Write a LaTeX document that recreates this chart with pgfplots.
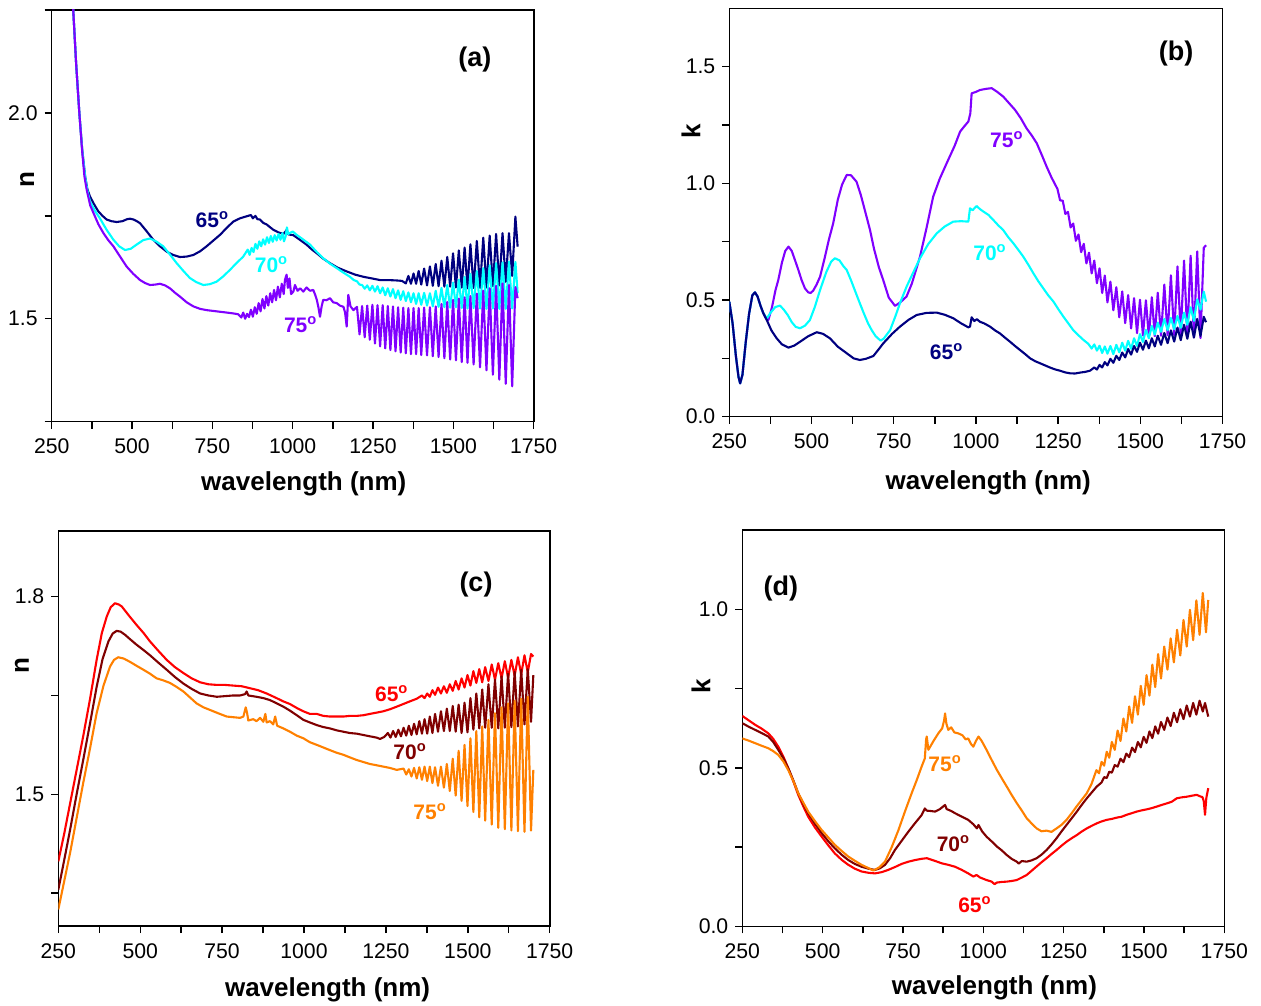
\documentclass[border=0pt]{standalone}
\usepackage{fontspec}
\setmainfont{Liberation Sans}
\usepackage{pgfplots}
\pgfplotsset{compat=1.18}
\definecolor{navyc}{RGB}{0,0,128}
\definecolor{cyanc}{RGB}{0,255,255}
\definecolor{violc}{RGB}{128,0,255}
\definecolor{redc}{RGB}{255,0,0}
\definecolor{dredc}{RGB}{128,0,0}
\definecolor{orgc}{RGB}{255,128,0}
\tikzset{
  ann/.style={font=\bfseries\fontsize{10.5}{12}\selectfont},
  plab/.style={font=\bfseries\fontsize{13.5}{15}\selectfont},
}
\pgfplotsset{
  myax/.style={
    scale only axis,
    anchor=south west,
    clip mode=individual,
    xmin=250, xmax=1750,
    xtick={250,500,...,1750},
    minor xtick={375,625,...,1625},
    tick align=outside,
    tick pos=left,
    major tick length=3.5pt,
    minor tick length=3.5pt,
    tick style={black, line width=0.7pt},
    axis line style={line width=0.8pt},
    tick label style={font=\fontsize{10.6}{12}\selectfont},
    /pgf/number format/assume math mode=true,
    xticklabel style={/pgf/number format/1000 sep={}, yshift=-1.6pt},
    yticklabel style={/pgf/number format/.cd, fixed, fixed zerofill, precision=1},
    label style={font=\bfseries\fontsize{13}{15}\selectfont},
    xlabel={wavelength (nm)},
    no markers,
    every axis plot/.append style={line width=1.05pt, line join=round},
  },
}
\begin{document}
\begin{tikzpicture}
\path[use as bounding box] (0,0) rectangle (630.5pt,502.5pt);
% ---------------- (a)
\begin{axis}[myax, at={(25.85pt,291.65pt)}, width=241pt, height=205.85pt,
  ymin=1.25, ymax=2.25, ytick={1.5,2.0}, minor ytick={1.25,1.75,2.25},
  ylabel={n},
  xlabel style={at={(axis description cs:0.523,-0.151)}, anchor=center},
  ylabel style={at={(axis description cs:-0.051,0.587)}, anchor=center}]
\addplot[navyc] coordinates {(300,2.55)(310,2.36)(317,2.25)(326,2.12)(336,2.00)(345,1.91)(354,1.846)(361,1.815)(369,1.797)(382,1.778)(395,1.761)(408,1.750)(421,1.741)(436,1.737)(452,1.735)(470,1.737)(485,1.742)(494,1.743)(505,1.741)(515,1.737)(525,1.732)(545,1.713)(566,1.692)(587,1.676)(608,1.663)(628,1.655)(649,1.650)(670,1.651)(691,1.655)(712,1.664)(732,1.676)(753,1.690)(774,1.704)(795,1.721)(815,1.736)(836,1.744)(857,1.749)(870,1.752)(876,1.744)(884,1.750)(890,1.742)(898,1.741)(908,1.733)(919,1.729)(930,1.722)(940,1.716)(955,1.710)(971,1.706)(978,1.712)(981,1.716)(986,1.705)(1002,1.703)(1022,1.692)(1043,1.680)(1060,1.668)(1075,1.659)(1095,1.646)(1116,1.635)(1140,1.624)(1168,1.615)(1195,1.607)(1220,1.602)(1246,1.598)(1272,1.594)(1298,1.594)(1324,1.593)(1340,1.592)
(1352,1.586)(1360,1.604)(1368,1.585)(1376,1.610)(1384,1.585)(1392,1.616)(1400,1.583)(1409,1.622)(1418,1.581)(1427,1.627)(1436,1.580)(1445,1.633)(1454,1.579)(1463,1.641)(1472,1.578)(1481,1.650)(1490,1.578)(1499,1.659)(1508,1.576)(1517,1.666)(1526,1.576)(1535,1.673)(1544,1.574)(1553,1.681)(1563,1.575)(1573,1.689)(1583,1.575)(1593,1.697)(1603,1.576)(1613,1.702)(1623,1.579)(1633,1.706)(1643,1.581)(1653,1.708)(1663,1.590)(1673,1.708)(1683,1.604)(1693,1.748)(1700,1.675)};
\addplot[cyanc] coordinates {(300,2.55)(310,2.36)(317,2.25)(326,2.12)(336,2.00)(345,1.91)(354,1.846)(361,1.812)(369,1.785)(384,1.763)(400,1.744)(421,1.716)(442,1.692)(460,1.676)(478,1.667)(496,1.670)(514,1.680)(535,1.691)(556,1.695)(575,1.688)(597,1.676)(618,1.656)(639,1.635)(660,1.616)(680,1.599)(700,1.589)(722,1.582)(742,1.584)(763,1.590)(784,1.603)(805,1.619)(825,1.635)(846,1.651)(860,1.668)(866,1.655)(872,1.672)(878,1.662)(884,1.682)(890,1.670)(896,1.688)(902,1.676)(908,1.693)(914,1.680)(920,1.698)(926,1.684)(932,1.701)(938,1.687)(944,1.703)(950,1.690)(956,1.706)(962,1.692)(968,1.708)(973,1.688)(978,1.700)(982,1.722)(986,1.706)(1000,1.712)(1012,1.704)(1030,1.694)(1054,1.680)(1075,1.662)(1095,1.647)(1116,1.634)(1137,1.623)(1158,1.612)(1178,1.602)(1190,1.594)
(1200,1.591)(1208,1.583)(1216,1.582)(1224,1.573)(1232,1.581)(1240,1.569)(1248,1.580)(1256,1.566)(1264,1.579)(1272,1.562)(1280,1.576)(1288,1.557)(1296,1.574)(1304,1.554)(1312,1.572)(1320,1.550)(1328,1.569)(1336,1.546)(1344,1.567)(1352,1.543)(1360,1.564)(1368,1.540)(1376,1.562)(1384,1.536)(1392,1.562)(1400,1.534)(1409,1.563)(1418,1.532)(1427,1.562)(1436,1.530)(1445,1.568)(1454,1.529)(1463,1.575)(1472,1.528)(1481,1.582)(1490,1.527)(1499,1.588)(1508,1.528)(1517,1.595)(1526,1.526)(1535,1.602)(1544,1.525)(1553,1.609)(1563,1.526)(1573,1.616)(1583,1.525)(1593,1.623)(1603,1.524)(1613,1.630)(1623,1.525)(1633,1.635)(1643,1.524)(1653,1.637)(1663,1.524)(1673,1.639)(1683,1.525)(1693,1.638)(1700,1.562)};
\addplot[violc] coordinates {(300,2.55)(310,2.36)(317,2.25)(326,2.12)(336,2.00)(345,1.905)(352,1.845)(359,1.813)(370,1.775)(380,1.757)(395,1.730)(411,1.708)(426,1.691)(442,1.676)(462,1.652)(483,1.627)(504,1.609)(525,1.594)(540,1.587)(556,1.582)(572,1.583)(587,1.585)(603,1.581)(618,1.574)(634,1.563)(649,1.554)(670,1.540)(691,1.530)(712,1.524)(732,1.521)(753,1.519)(774,1.517)(795,1.515)(815,1.513)(830,1.511)(840,1.503)(846,1.515)(852,1.500)(858,1.512)(864,1.504)(870,1.522)(876,1.505)(882,1.528)(888,1.512)(894,1.538)(900,1.518)(906,1.548)(912,1.525)(918,1.555)(924,1.532)(930,1.562)(936,1.540)(942,1.570)(948,1.545)(954,1.578)(960,1.552)(966,1.585)(972,1.560)(976,1.595)(981,1.607)(985,1.575)(990,1.598)(995,1.560)(1002,1.566)(1007,1.582)(1015,1.568)(1023,1.574)(1033,1.566)(1043,1.576)(1054,1.568)(1064,1.570)(1070,1.558)(1075,1.546)(1080,1.528)(1085,1.505)(1090,1.530)(1095,1.546)(1105,1.545)(1116,1.550)(1126,1.540)(1137,1.538)(1147,1.532)(1158,1.529)(1163,1.515)(1168,1.481)(1173,1.558)(1180,1.530)(1189,1.521)
(1200,1.529)(1208,1.462)(1216,1.531)(1224,1.455)(1232,1.532)(1240,1.449)(1248,1.534)(1256,1.440)(1264,1.533)(1272,1.433)(1280,1.533)(1288,1.428)(1296,1.531)(1304,1.424)(1312,1.530)(1320,1.421)(1328,1.528)(1336,1.418)(1344,1.527)(1352,1.416)(1360,1.526)(1368,1.414)(1376,1.526)(1384,1.414)(1392,1.526)(1400,1.412)(1409,1.527)(1418,1.411)(1427,1.528)(1436,1.409)(1445,1.530)(1454,1.407)(1463,1.536)(1472,1.404)(1481,1.541)(1490,1.401)(1499,1.546)(1508,1.399)(1517,1.549)(1526,1.395)(1535,1.552)(1544,1.393)(1553,1.555)(1563,1.389)(1573,1.561)(1583,1.382)(1593,1.568)(1603,1.375)(1613,1.574)(1623,1.364)(1633,1.580)(1643,1.352)(1653,1.586)(1663,1.342)(1673,1.582)(1683,1.336)(1693,1.577)(1700,1.550)};
\node[ann, text=navyc] at (axis cs:750,1.740) {65\textsuperscript{o}};
\node[ann, text=cyanc] at (axis cs:934,1.631) {70\textsuperscript{o}};
\node[ann, text=violc] at (axis cs:1025,1.485) {75\textsuperscript{o}};
\node[plab] at (axis description cs:0.878,0.879) {(a)};
\end{axis}
% ---------------- (b)
\begin{axis}[myax, at={(364.65pt,294.15pt)}, width=246.6pt, height=204.15pt,
  ymin=0, ymax=1.75, ytick={0,0.5,1.0,1.5}, minor ytick={0.25,0.75,1.25},
  ylabel={k},
  xlabel style={at={(axis description cs:0.525,-0.162)}, anchor=center},
  ylabel style={at={(axis description cs:-0.078,0.698)}, anchor=center}]
\addplot[violc] coordinates {(250,0.493)(260,0.40)(270,0.26)(278,0.17)(283,0.143)(290,0.18)(300,0.32)(310,0.44)(320,0.52)(328,0.533)(336,0.515)(345,0.475)(353,0.445)(360,0.425)(369,0.415)(380,0.47)(390,0.54)(399,0.586)(410,0.66)(420,0.71)(430,0.729)(440,0.71)(450,0.67)(460,0.629)(470,0.585)(480,0.55)(490,0.533)(497,0.530)(505,0.54)(515,0.565)(526,0.60)(540,0.68)(553,0.76)(566,0.829)(580,0.93)(593,0.995)(607,1.036)(620,1.035)(637,1.007)(650,0.95)(665,0.87)(678,0.80)(690,0.72)(705,0.64)(718,0.586)(735,0.51)(754,0.475)(770,0.49)(789,0.515)(805,0.57)(818,0.63)(830,0.686)(850,0.81)(870,0.943)(890,1.02)(911,1.086)(935,1.16)(952,1.222)(965,1.245)(977,1.265)(983,1.30)(987,1.386)(1000,1.392)(1012,1.400)(1030,1.405)(1048,1.408)(1065,1.392)(1083,1.372)(1100,1.345)(1119,1.315)(1137,1.278)(1154,1.236)(1170,1.205)(1185,1.172)(1200,1.123)(1215,1.072)(1230,1.025)
(1248,0.976)(1256,0.927)(1264,0.926)(1272,0.869)(1280,0.878)(1288,0.811)(1296,0.828)(1304,0.754)(1312,0.781)(1320,0.705)(1328,0.741)(1336,0.657)(1344,0.703)(1352,0.614)(1360,0.669)(1368,0.572)(1376,0.636)(1384,0.530)(1392,0.605)(1400,0.490)(1409,0.579)(1418,0.456)(1427,0.555)(1436,0.426)(1445,0.537)(1454,0.401)(1463,0.521)(1472,0.378)(1481,0.508)(1490,0.358)(1499,0.501)(1508,0.348)(1517,0.499)(1526,0.343)(1535,0.512)(1544,0.345)(1553,0.531)(1563,0.347)(1573,0.566)(1583,0.349)(1593,0.606)(1603,0.350)(1613,0.644)(1623,0.350)(1633,0.669)(1643,0.349)(1653,0.690)(1663,0.340)(1673,0.708)(1683,0.337)(1693,0.724)(1700,0.735)};
\addplot[cyanc] coordinates {(250,0.493)(260,0.40)(270,0.26)(278,0.17)(283,0.143)(290,0.18)(300,0.32)(310,0.44)(320,0.52)(328,0.533)(336,0.515)(345,0.475)(353,0.445)(364,0.421)(375,0.445)(390,0.47)(404,0.476)(415,0.46)(428,0.435)(440,0.405)(452,0.385)(465,0.379)(480,0.39)(495,0.414)(510,0.47)(526,0.543)(545,0.62)(560,0.665)(571,0.679)(585,0.67)(597,0.645)(607,0.629)(620,0.585)(635,0.53)(647,0.486)(660,0.44)(672,0.40)(683,0.371)(695,0.345)(710,0.326)(720,0.335)(739,0.371)(755,0.43)(770,0.49)(789,0.557)(810,0.62)(830,0.679)(855,0.74)(881,0.786)(905,0.815)(931,0.836)(955,0.838)(977,0.836)(982,0.893)(990,0.885)(1002,0.903)(1012,0.89)(1023,0.879)(1038,0.865)(1053,0.843)(1068,0.82)(1083,0.80)(1098,0.77)(1114,0.743)(1129,0.715)(1144,0.686)(1160,0.65)(1175,0.614)(1190,0.58)(1205,0.55)(1220,0.52)(1236,0.493)(1251,0.46)(1266,0.429)(1281,0.40)(1296,0.371)(1311,0.35)(1327,0.329)(1342,0.312)
(1352,0.292)(1360,0.310)(1368,0.283)(1376,0.304)(1384,0.273)(1392,0.301)(1400,0.270)(1409,0.303)(1418,0.268)(1427,0.308)(1436,0.276)(1445,0.317)(1454,0.283)(1463,0.325)(1472,0.291)(1481,0.336)(1490,0.303)(1499,0.354)(1508,0.320)(1517,0.372)(1526,0.336)(1535,0.389)(1544,0.352)(1553,0.403)(1563,0.364)(1573,0.419)(1583,0.371)(1593,0.423)(1603,0.375)(1613,0.432)(1623,0.381)(1633,0.446)(1643,0.394)(1653,0.469)(1663,0.411)(1673,0.503)(1683,0.459)(1693,0.536)(1700,0.493)};
\addplot[navyc] coordinates {(250,0.493)(260,0.40)(270,0.26)(278,0.17)(283,0.143)(290,0.18)(300,0.32)(310,0.44)(320,0.52)(328,0.533)(336,0.515)(345,0.475)(353,0.445)(364,0.414)(378,0.37)(394,0.336)(410,0.31)(430,0.296)(448,0.305)(465,0.321)(490,0.345)(516,0.362)(535,0.355)(556,0.336)(580,0.30)(607,0.272)(628,0.25)(647,0.243)(665,0.248)(688,0.26)(705,0.29)(718,0.314)(745,0.355)(769,0.386)(795,0.415)(820,0.436)(850,0.445)(881,0.446)(905,0.437)(931,0.422)(955,0.40)(977,0.383)(982,0.386)(987,0.426)(995,0.41)(1003,0.418)(1012,0.407)(1025,0.40)(1043,0.386)(1058,0.37)(1073,0.357)(1089,0.338)(1104,0.321)(1119,0.303)(1134,0.286)(1150,0.268)(1165,0.25)(1180,0.238)(1195,0.229)(1210,0.22)(1225,0.211)(1240,0.203)(1256,0.197)(1271,0.19)(1286,0.186)(1301,0.185)(1317,0.189)(1332,0.192)(1347,0.197)
(1360,0.211)(1368,0.202)(1376,0.222)(1384,0.211)(1392,0.234)(1400,0.220)(1409,0.248)(1418,0.231)(1427,0.261)(1436,0.243)(1445,0.275)(1454,0.254)(1463,0.290)(1472,0.266)(1481,0.303)(1490,0.278)(1499,0.317)(1508,0.287)(1517,0.326)(1526,0.293)(1535,0.336)(1544,0.301)(1553,0.347)(1563,0.308)(1573,0.359)(1583,0.315)(1593,0.370)(1603,0.322)(1613,0.382)(1623,0.328)(1633,0.394)(1643,0.334)(1653,0.407)(1663,0.339)(1673,0.419)(1683,0.346)(1693,0.428)(1700,0.405)};
\node[ann, text=violc] at (axis cs:1094,1.186) {75\textsuperscript{o}};
\node[ann, text=cyanc] at (axis cs:1043,0.704) {70\textsuperscript{o}};
\node[ann, text=navyc] at (axis cs:911,0.279) {65\textsuperscript{o}};
\node[plab] at (axis description cs:0.906,0.890) {(b)};
\end{axis}
% ---------------- (c)
\begin{axis}[myax, at={(29.15pt,39.5pt)}, width=245.7pt, height=197.6pt,
  ymin=1.3, ymax=1.9, ytick={1.5,1.8}, minor ytick={1.35,1.65},
  ylabel={n},
  xlabel style={at={(axis description cs:0.548,-0.162)}, anchor=center},
  ylabel style={at={(axis description cs:-0.074,0.658)}, anchor=center}]
\addplot[redc] coordinates {(250,1.398)(268,1.44)(286,1.486)(306,1.537)(326,1.588)(347,1.645)(367,1.704)(383,1.745)(398,1.770)(410,1.784)(423,1.790)(435,1.788)(444,1.785)(466,1.771)(489,1.757)(510,1.745)(530,1.732)(555,1.718)(581,1.704)(606,1.693)(632,1.684)(657,1.676)(683,1.670)(708,1.667)(734,1.666)(759,1.666)(784,1.665)(810,1.664)(835,1.661)(860,1.658)(886,1.653)(912,1.647)(937,1.641)(957,1.637)(978,1.631)(998,1.626)(1018,1.622)(1039,1.622)(1059,1.619)(1079,1.618)(1100,1.618)(1120,1.618)(1140,1.619)(1161,1.619)(1181,1.620)(1201,1.622)(1222,1.624)(1242,1.626)(1262,1.629)(1283,1.633)(1303,1.637)(1323,1.641)(1344,1.645)
(1360,1.650)(1368,1.646)(1376,1.653)(1384,1.648)(1392,1.658)(1400,1.651)(1409,1.662)(1418,1.653)(1427,1.664)(1436,1.654)(1445,1.667)(1454,1.657)(1463,1.672)(1472,1.659)(1481,1.676)(1490,1.662)(1499,1.681)(1508,1.665)(1517,1.687)(1526,1.669)(1535,1.690)(1544,1.670)(1553,1.693)(1563,1.672)(1573,1.697)(1583,1.674)(1593,1.699)(1603,1.676)(1613,1.702)(1623,1.677)(1633,1.704)(1643,1.680)(1653,1.708)(1663,1.682)(1673,1.711)(1683,1.685)(1693,1.713)(1700,1.709)};
\addplot[dredc] coordinates {(250,1.355)(268,1.40)(286,1.446)(306,1.50)(326,1.552)(347,1.608)(367,1.663)(385,1.705)(403,1.732)(416,1.744)(428,1.748)(440,1.747)(454,1.742)(470,1.735)(489,1.727)(510,1.719)(530,1.711)(555,1.700)(581,1.689)(606,1.678)(632,1.668)(657,1.660)(683,1.653)(708,1.650)(734,1.648)(759,1.649)(784,1.650)(805,1.650)(820,1.652)(825,1.656)(830,1.650)(855,1.648)(876,1.646)(896,1.643)(917,1.638)(937,1.633)(957,1.627)(978,1.620)(998,1.613)(1018,1.609)(1039,1.605)(1059,1.602)(1079,1.600)(1100,1.597)(1120,1.595)(1140,1.593)(1161,1.592)(1181,1.590)(1201,1.588)(1222,1.586)(1232,1.584)(1245,1.587)
(1256,1.593)(1264,1.586)(1272,1.596)(1280,1.587)(1288,1.598)(1296,1.588)(1304,1.601)(1312,1.589)(1320,1.604)(1328,1.590)(1336,1.607)(1344,1.591)(1352,1.611)(1360,1.592)(1368,1.614)(1376,1.592)(1384,1.618)(1392,1.593)(1400,1.622)(1409,1.595)(1418,1.626)(1427,1.596)(1436,1.630)(1445,1.596)(1454,1.634)(1463,1.595)(1472,1.636)(1481,1.593)(1490,1.639)(1499,1.594)(1508,1.646)(1517,1.598)(1526,1.653)(1535,1.600)(1544,1.659)(1553,1.601)(1563,1.667)(1573,1.601)(1583,1.674)(1593,1.600)(1603,1.679)(1613,1.601)(1623,1.683)(1633,1.602)(1643,1.686)(1653,1.603)(1663,1.689)(1673,1.606)(1683,1.690)(1693,1.610)(1700,1.681)};
\addplot[orgc] coordinates {(250,1.325)(268,1.368)(286,1.411)(306,1.464)(326,1.517)(347,1.570)(367,1.623)(388,1.665)(408,1.694)(420,1.704)(433,1.708)(450,1.706)(469,1.701)(489,1.695)(510,1.689)(530,1.683)(550,1.676)(570,1.673)(591,1.669)(611,1.663)(632,1.656)(652,1.647)(672,1.638)(693,1.632)(713,1.628)(738,1.623)(764,1.618)(784,1.617)(805,1.616)(815,1.618)(822,1.632)(826,1.624)(830,1.612)(845,1.614)(855,1.611)(866,1.616)(876,1.610)(882,1.622)(886,1.609)(896,1.611)(906,1.606)(912,1.618)(918,1.604)(937,1.600)(957,1.595)(978,1.589)(998,1.585)(1018,1.579)(1039,1.575)(1059,1.571)(1079,1.567)(1100,1.563)(1120,1.560)(1140,1.556)(1161,1.552)(1181,1.549)(1201,1.546)(1222,1.544)(1242,1.542)(1262,1.540)(1283,1.537)
(1304,1.539)(1312,1.530)(1320,1.538)(1328,1.527)(1336,1.540)(1344,1.524)(1352,1.541)(1360,1.522)(1368,1.542)(1376,1.520)(1384,1.542)(1392,1.517)(1400,1.541)(1409,1.513)(1418,1.542)(1427,1.510)(1436,1.546)(1445,1.505)(1454,1.554)(1463,1.498)(1472,1.566)(1481,1.490)(1490,1.575)(1499,1.482)(1508,1.585)(1517,1.473)(1526,1.596)(1535,1.465)(1544,1.603)(1553,1.460)(1563,1.613)(1573,1.454)(1583,1.623)(1593,1.449)(1603,1.632)(1613,1.447)(1623,1.638)(1633,1.445)(1643,1.642)(1653,1.444)(1663,1.645)(1673,1.443)(1683,1.648)(1693,1.445)(1700,1.537)};
\node[ann, text=redc] at (axis cs:1268,1.653) {65\textsuperscript{o}};
\node[ann, text=dredc] at (axis cs:1324,1.565) {70\textsuperscript{o}};
\node[ann, text=orgc] at (axis cs:1385,1.474) {75\textsuperscript{o}};
\node[plab] at (axis description cs:0.850,0.863) {(c)};
\end{axis}
% ---------------- (d)
\begin{axis}[myax, at={(371.15pt,39.35pt)}, width=241pt, height=198pt,
  ymin=0, ymax=1.25, ytick={0,0.5,1.0}, minor ytick={0.25,0.75},
  ylabel={k},
  xlabel style={at={(axis description cs:0.523,-0.156)}, anchor=center},
  ylabel style={at={(axis description cs:-0.086,0.605)}, anchor=center}]
\addplot[redc] coordinates {(250,0.664)(270,0.650)(290,0.636)(310,0.624)(331,0.609)(346,0.592)(362,0.567)(378,0.535)(393,0.499)(409,0.457)(424,0.415)(440,0.378)(455,0.346)(476,0.312)(497,0.283)(518,0.255)(538,0.230)(559,0.210)(580,0.194)(600,0.182)(621,0.173)(642,0.169)(663,0.167)(684,0.171)(704,0.178)(725,0.187)(746,0.197)(767,0.204)(787,0.209)(808,0.213)(824,0.215)(848,0.207)(870,0.199)(891,0.194)(912,0.188)(933,0.178)(953,0.167)(969,0.157)(979,0.162)(990,0.154)(1010,0.146)(1026,0.141)(1035,0.133)(1042,0.138)(1057,0.140)(1073,0.141)(1088,0.143)(1104,0.146)(1120,0.154)(1135,0.162)(1150,0.175)(1166,0.189)(1181,0.202)(1197,0.215)(1212,0.228)(1228,0.241)(1243,0.254)(1259,0.267)(1275,0.278)(1291,0.288)(1306,0.299)(1322,0.309)(1337,0.317)(1353,0.325)(1368,0.331)(1384,0.336)(1400,0.339)(1415,0.343)(1431,0.346)(1446,0.352)(1462,0.357)(1477,0.362)(1493,0.366)(1508,0.369)(1524,0.373)(1540,0.378)(1555,0.383)(1571,0.388)(1586,0.393)(1602,0.404)(1617,0.407)(1633,0.409)(1648,0.412)(1664,0.415)(1675,0.410)(1682,0.408)(1686,0.395)(1690,0.352)(1694,0.405)(1700,0.436)};
\addplot[dredc] coordinates {(250,0.641)(270,0.630)(290,0.620)(310,0.610)(331,0.599)(346,0.582)(362,0.557)(378,0.530)(393,0.499)(409,0.460)(424,0.420)(440,0.386)(455,0.357)(476,0.324)(497,0.294)(518,0.268)(538,0.246)(559,0.226)(580,0.209)(600,0.197)(621,0.188)(642,0.182)(663,0.178)(678,0.183)(694,0.194)(710,0.215)(725,0.241)(746,0.270)(767,0.299)(787,0.325)(808,0.351)(818,0.372)(824,0.365)(836,0.364)(850,0.362)(865,0.370)(881,0.383)(886,0.370)(900,0.364)(912,0.357)(933,0.346)(953,0.336)(969,0.322)(980,0.309)(985,0.320)(996,0.300)(1010,0.283)(1026,0.268)(1042,0.252)(1057,0.240)(1073,0.225)(1088,0.213)(1104,0.204)(1110,0.198)(1120,0.206)(1135,0.204)(1150,0.208)(1166,0.215)(1181,0.226)(1197,0.241)(1212,0.258)(1228,0.278)(1243,0.299)(1259,0.320)(1275,0.341)(1291,0.362)(1306,0.383)(1322,0.404)(1337,0.422)(1353,0.441)
(1368,0.454)(1376,0.471)(1384,0.468)(1392,0.488)(1400,0.485)(1409,0.509)(1418,0.504)(1427,0.529)(1436,0.518)(1445,0.545)(1454,0.534)(1463,0.564)(1472,0.550)(1481,0.582)(1490,0.565)(1499,0.598)(1508,0.579)(1517,0.615)(1526,0.594)(1535,0.631)(1544,0.608)(1553,0.645)(1563,0.620)(1573,0.659)(1583,0.632)(1593,0.674)(1603,0.644)(1613,0.685)(1623,0.654)(1633,0.697)(1643,0.662)(1653,0.705)(1663,0.668)(1673,0.712)(1683,0.678)(1690,0.705)(1700,0.662)};
\addplot[orgc] coordinates {(250,0.593)(270,0.586)(290,0.578)(310,0.570)(331,0.562)(346,0.553)(362,0.541)(378,0.520)(393,0.493)(409,0.458)(424,0.420)(440,0.390)(455,0.362)(476,0.332)(497,0.304)(518,0.280)(538,0.257)(559,0.238)(580,0.220)(600,0.207)(621,0.194)(640,0.185)(658,0.176)(676,0.186)(694,0.204)(715,0.250)(736,0.304)(756,0.362)(777,0.420)(793,0.462)(808,0.504)(818,0.530)(822,0.590)(824,0.599)(829,0.557)(845,0.585)(860,0.609)(872,0.625)(878,0.650)(881,0.672)(885,0.640)(891,0.620)(900,0.628)(910,0.612)(922,0.609)(935,0.603)(945,0.590)(953,0.593)(962,0.575)(969,0.567)(977,0.585)(985,0.599)(995,0.585)(1010,0.557)(1026,0.525)(1042,0.494)(1057,0.468)(1073,0.441)(1088,0.415)(1104,0.389)(1120,0.365)(1135,0.341)(1150,0.325)(1166,0.309)(1181,0.300)(1197,0.302)(1212,0.298)(1228,0.309)(1243,0.320)(1259,0.336)(1275,0.357)(1290,0.378)(1306,0.399)(1322,0.420)(1337,0.450)
(1352,0.493)(1360,0.483)(1368,0.519)(1376,0.507)(1384,0.551)(1392,0.532)(1400,0.582)(1409,0.557)(1418,0.618)(1427,0.585)(1436,0.656)(1445,0.615)(1454,0.694)(1463,0.642)(1472,0.726)(1481,0.668)(1490,0.759)(1499,0.699)(1508,0.793)(1517,0.728)(1526,0.826)(1535,0.755)(1544,0.859)(1553,0.782)(1563,0.883)(1573,0.810)(1583,0.909)(1593,0.833)(1603,0.936)(1613,0.855)(1623,0.967)(1633,0.883)(1643,0.999)(1653,0.903)(1663,1.029)(1673,0.920)(1683,1.052)(1693,0.928)(1700,1.030)};
\node[ann, text=orgc] at (axis cs:881,0.514) {75\textsuperscript{o}};
\node[ann, text=dredc] at (axis cs:907,0.262) {70\textsuperscript{o}};
\node[ann, text=redc] at (axis cs:974,0.067) {65\textsuperscript{o}};
\node[plab] at (axis description cs:0.080,0.854) {(d)};
\end{axis}
\end{tikzpicture}
\end{document}
